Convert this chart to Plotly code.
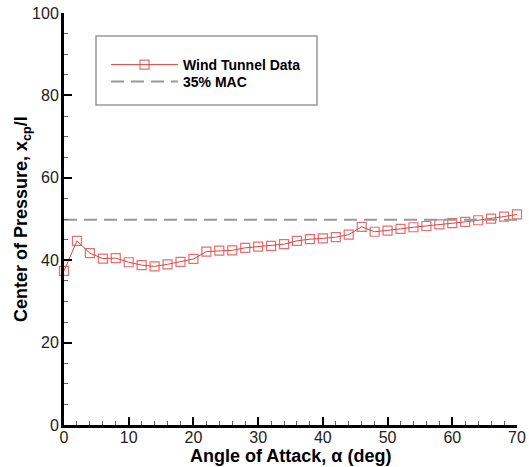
import plotly.graph_objects as go

alpha = [0, 2, 4, 6, 8, 10, 12, 14, 16, 18, 20, 22, 24, 26, 28, 30, 32, 34,
         36, 38, 40, 42, 44, 46, 48, 50, 52, 54, 56, 58, 60, 62, 64, 66, 68, 70]
xcp = [37.4, 44.7, 41.7, 40.4, 40.5, 39.5, 38.8, 38.5, 39.0, 39.6, 40.3, 42.1,
       42.3, 42.4, 43.0, 43.3, 43.5, 43.9, 44.7, 45.1, 45.3, 45.6, 46.2, 48.1,
       46.9, 47.2, 47.6, 48.0, 48.3, 48.7, 49.0, 49.3, 49.7, 50.1, 50.6, 51.1]
mac_x = [0, 70]
mac_y = [49.8, 49.8]

FONT = "Liberation Sans, Arial, sans-serif"

fig = go.Figure()
fig.add_trace(go.Scatter(
    x=alpha, y=xcp, mode="lines+markers", name="Wind Tunnel Data",
    line=dict(color="#e8403c", width=1),
    marker=dict(symbol="square-open", size=9, color="rgba(232,70,70,0.8)",
                line=dict(width=1.2)),
    cliponaxis=False, legend="legend",
))
fig.add_trace(go.Scatter(
    x=mac_x, y=mac_y, mode="lines", name="35% MAC",
    line=dict(color="#999999", width=2, dash="13px,7px"),
    legend="legend2",
))

W, H = 529, 467
L, R, T, B = 64, 12, 13, 42

def px2paper_x(px):
    return (px - L) / (W - L - R)

def px2paper_y(py):
    return (H - B - py) / (H - B - T)

fig.add_shape(type="rect", xref="paper", yref="paper",
              x0=px2paper_x(96), x1=px2paper_x(317),
              y0=px2paper_y(105), y1=px2paper_y(36),
              line=dict(color="#999999", width=1.5), fillcolor="rgba(0,0,0,0)")

axis_common = dict(
    showgrid=False, zeroline=False, showline=True, linecolor="black", linewidth=3,
    ticks="inside", ticklen=8, tickwidth=2, tickcolor="black",
    tickfont=dict(family=FONT, size=16, color="#222"),
    mirror=False, automargin=False,
)

leg_common = dict(
    xanchor="left", yanchor="middle",
    bgcolor="rgba(0,0,0,0)", borderwidth=0, itemwidth=67,
    font=dict(family=FONT, size=14, color="black", weight="bold"),
)

fig.update_layout(
    width=W, height=H,
    margin=dict(l=L, r=R, t=T, b=B),
    paper_bgcolor="white", plot_bgcolor="white",
    showlegend=True,
    legend=dict(x=px2paper_x(106), y=px2paper_y(65), **leg_common),
    legend2=dict(x=px2paper_x(106), y=px2paper_y(82), **leg_common),
    xaxis=dict(
        range=[0, 70], dtick=10, tick0=0, ticklabelstandoff=-4,
        minor=dict(dtick=2, ticks="inside", ticklen=4, tickwidth=1, tickcolor="#666"),
        **axis_common,
    ),
    yaxis=dict(
        range=[0, 100], dtick=20, tick0=0, ticklabelstandoff=-1,
        minor=dict(dtick=5, ticks="inside", ticklen=4, tickwidth=1, tickcolor="#666"),
        **axis_common,
    ),
    annotations=[
        dict(text="<b>Angle of Attack, α (deg)</b>", xref="paper", yref="paper",
             x=px2paper_x(290), y=px2paper_y(456), xanchor="center", yanchor="middle",
             showarrow=False, font=dict(family=FONT, size=18, color="black")),
        dict(text="<b>Center of Pressure, x<sub>cp</sub>/l</b>", xref="paper", yref="paper",
             x=px2paper_x(22), y=px2paper_y(219), xanchor="center", yanchor="middle",
             textangle=-90, showarrow=False, font=dict(family=FONT, size=18, color="black")),
    ],
)

fig.write_html("out.html", config={"displayModeBar": False},
               post_script="document.body.style.margin='0';document.body.style.overflow='hidden';")
